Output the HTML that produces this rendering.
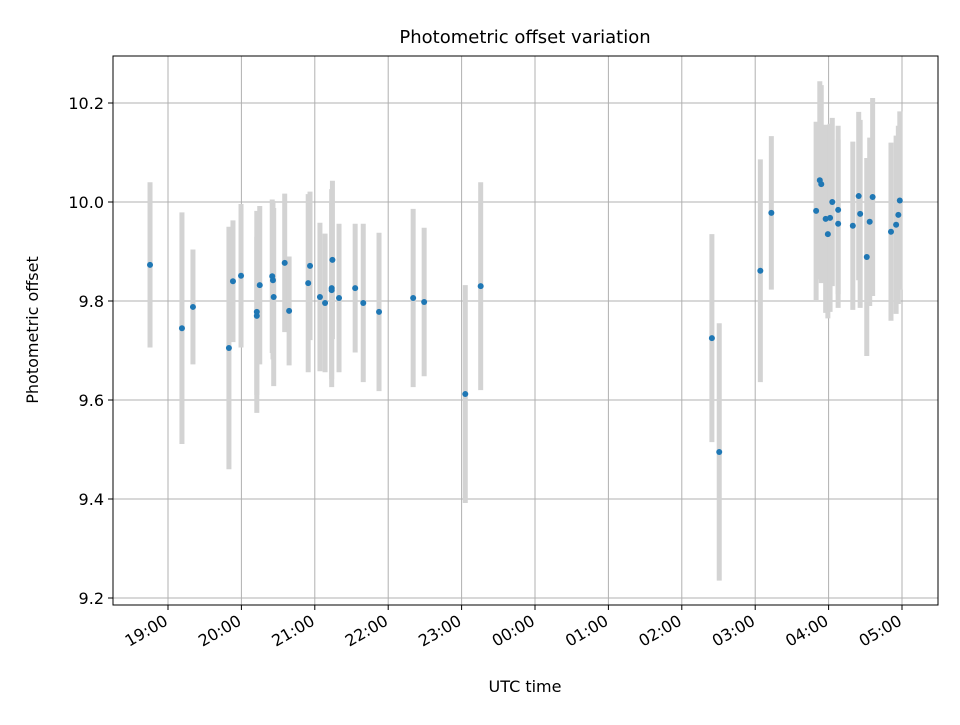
<!DOCTYPE html>
<html><head><meta charset="utf-8">
<style>
body{margin:0;background:#fff;}
svg text{font-family:"DejaVu Sans","Liberation Sans",sans-serif;fill:#000;}
</style></head>
<body>
<svg id="chart" width="960" height="720">
<rect width="960" height="720" fill="#fff"/>
<text x="525" y="43" font-size="18" text-anchor="middle">Photometric offset variation</text>
<g id="grid"></g>
<g id="bars"></g>
<g id="pts"></g>
<rect x="113" y="56" width="825" height="549" fill="none" stroke="#000" stroke-width="1"/>
<g id="axes"></g>
<text x="525" y="692" font-size="16" text-anchor="middle">UTC time</text>
<text transform="translate(38,330) rotate(-90)" font-size="16" text-anchor="middle">Photometric offset</text>
</svg>
<script>
// hours since 00:00 of first day (values > 24 are next day)
const times = [18.755,19.19,19.34,19.83,19.885,19.995,20.21,20.21,20.25,20.42,20.43,20.44,20.59,20.65,20.91,20.935,21.07,21.14,21.23,21.23,21.24,21.33,21.55,21.66,21.875,22.34,22.49,23.05,23.26,26.41,26.51,27.07,27.22,27.83,27.88,27.9,27.96,27.99,28.02,28.05,28.13,28.13,28.33,28.41,28.43,28.52,28.56,28.60,28.85,28.92,28.95,28.97];
const offsets = [9.873,9.745,9.788,9.705,9.840,9.851,9.778,9.770,9.832,9.850,9.842,9.808,9.877,9.780,9.836,9.871,9.808,9.796,9.826,9.822,9.883,9.806,9.826,9.796,9.778,9.806,9.798,9.612,9.830,9.725,9.495,9.861,9.978,9.982,10.044,10.036,9.966,9.935,9.968,10.000,9.984,9.956,9.952,10.012,9.976,9.889,9.960,10.010,9.940,9.954,9.974,10.003];
const errors = [0.167,0.234,0.116,0.245,0.123,0.145,0.204,0.16,0.16,0.155,0.16,0.18,0.14,0.11,0.18,0.15,0.15,0.14,0.2,0.18,0.16,0.15,0.13,0.16,0.16,0.18,0.15,0.22,0.21,0.21,0.26,0.225,0.155,0.18,0.2,0.2,0.19,0.17,0.19,0.17,0.17,0.17,0.17,0.17,0.19,0.2,0.17,0.2,0.18,0.18,0.18,0.18];
const xTickHours = [19,20,21,22,23,24,25,26,27,28,29];
const xTickLabels = ["19:00","20:00","21:00","22:00","23:00","00:00","01:00","02:00","03:00","04:00","05:00"];
const yTicks = [9.2,9.4,9.6,9.8,10.0,10.2];
const yTickLabels = ["9.2","9.4","9.6","9.8","10.0","10.2"];

const NS="http://www.w3.org/2000/svg";
const X = h => 168 + (h-19)*73.4;
const Y = v => 202 - (v-10)*495;
function mk(tag, attrs, parent){const e=document.createElementNS(NS,tag);for(const k in attrs)e.setAttribute(k,attrs[k]);parent.appendChild(e);return e;}
const grid=document.getElementById('grid'), axes=document.getElementById('axes');
xTickHours.forEach((h,i)=>{
  const x=X(h);
  const g=mk('line',{x1:x,x2:x,y1:56,y2:605,stroke:'#b0b0b0','stroke-width':1},grid);
  
  
  const t=mk('line',{x1:x,x2:x,y1:605,y2:610,stroke:'#000'},axes);
  
  
  const l=mk('text',{'font-size':16,'text-anchor':'end',transform:`translate(${x+1},${624}) rotate(-30)`},axes);
  l.textContent=xTickLabels[i];
  
  
});
yTicks.forEach((v,i)=>{
  const y=Y(v);
  const g=mk('line',{x1:113,x2:938,y1:y,y2:y,stroke:'#b0b0b0','stroke-width':1},grid);
  
  
  const t=mk('line',{x1:108,x2:113,y1:y,y2:y,stroke:'#000'},axes);
  
  
  const l=mk('text',{x:104,y:y+6,'font-size':16,'text-anchor':'end'},axes);
  l.textContent=yTickLabels[i];
  
  
});
const bars=document.getElementById('bars'), pts=document.getElementById('pts');
times.forEach((h,i)=>{
  const x=X(h);
  const b=mk('line',{x1:x,x2:x,y1:Y(offsets[i]+errors[i]),y2:Y(offsets[i]-errors[i]),stroke:'#d3d3d3','stroke-width':5},bars);
  
  
  const c=mk('circle',{cx:x,cy:Y(offsets[i]),r:3,fill:'#1f77b4'},pts);
  
  
});
</script>
</body></html>
